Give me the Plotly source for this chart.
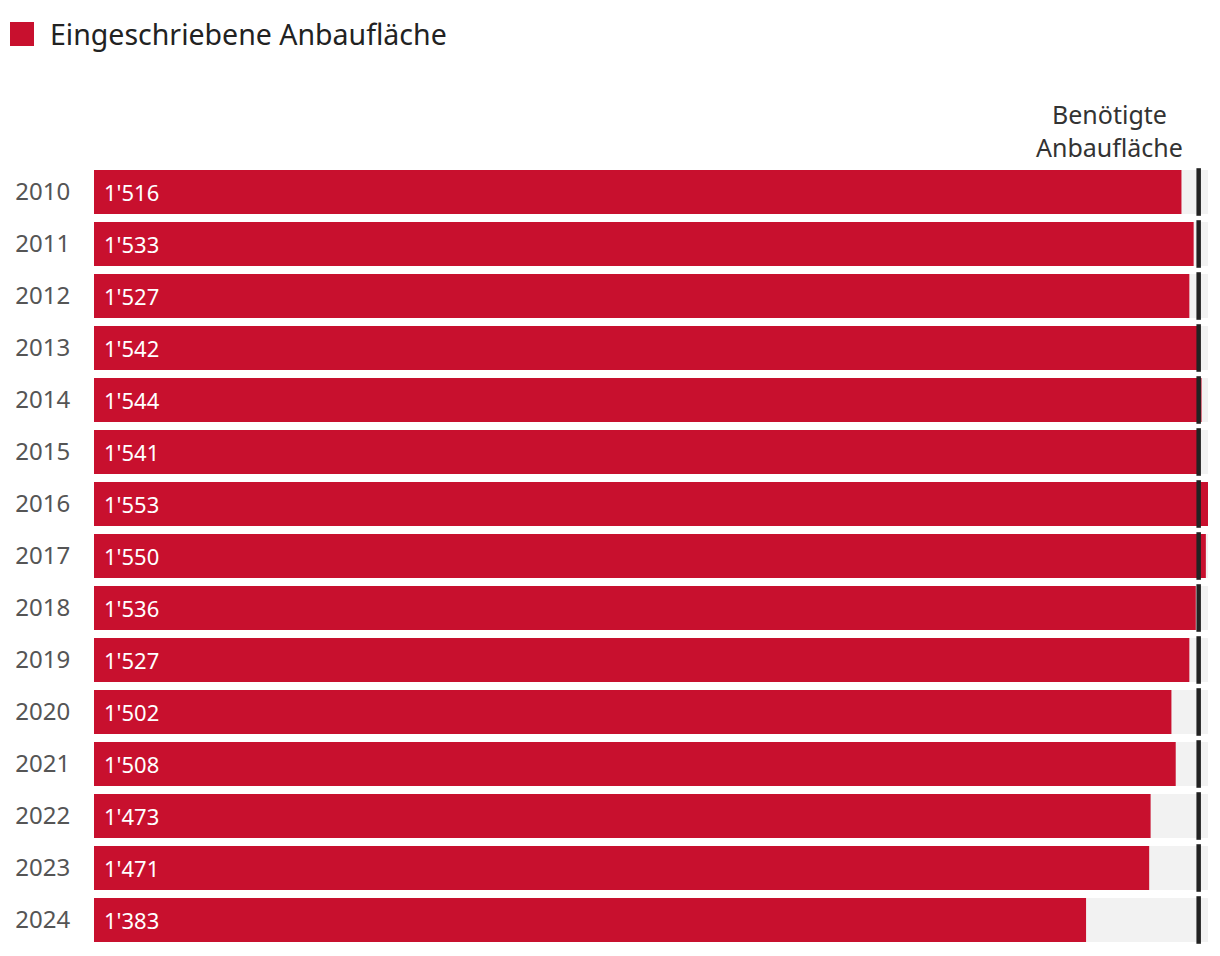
import plotly.graph_objects as go

years = ["2010", "2011", "2012", "2013", "2014", "2015", "2016", "2017",
         "2018", "2019", "2020", "2021", "2022", "2023", "2024"]
area = [1516, 1533, 1527, 1542, 1544, 1541, 1553, 1550,
        1536, 1527, 1502, 1508, 1473, 1471, 1383]
required = [1540] * len(years)

legend_label = "Eingeschriebene Anbaufläche"
required_label = "Benötigte<br>Anbaufläche"

RED = "#c8102e"
GRAY = "#f2f2f2"
FONT = "Noto Sans"

xmax = max(area)
n = len(years)

# figure is placed by the page with an 8px body margin
W, H = 1204, 940
ML, MR, MT, MB = 86, 4, 158, 2
PW = W - ML - MR
PH = H - MT - MB

fig = go.Figure()
fig.add_trace(go.Bar(y=years, x=[xmax] * n, orientation="h",
                     marker=dict(color=GRAY, line=dict(width=0)),
                     hoverinfo="skip", showlegend=False))
fig.add_trace(go.Bar(y=years, x=area, orientation="h", name=legend_label,
                     marker=dict(color=RED, line=dict(width=0)),
                     showlegend=False))
fig.add_trace(go.Scatter(y=years, x=required, mode="markers",
                         marker=dict(symbol="line-ns-open", size=34, color="#222222",
                                     line=dict(width=4.5, color="#222222")),
                         showlegend=False, hoverinfo="skip"))

for i, v in enumerate(area):
    fig.add_annotation(x=0, y=i, xref="x", yref="y", text=f"{v:,}".replace(",", "'"),
                       xanchor="left", xshift=8, showarrow=False,
                       font=dict(family=FONT, size=22, color="white"))

fig.add_annotation(x=required[0], y=1, xref="x", yref="paper", yanchor="bottom",
                   xanchor="right", xshift=-14, yshift=0, text=required_label,
                   align="center", showarrow=False,
                   font=dict(family=FONT, size=25, color="#333333"))

# legend
fig.add_shape(type="rect", xref="paper", yref="paper",
              x0=-84 / PW, x1=-60 / PW, y0=1 + (166 - 46) / PH, y1=1 + (166 - 22) / PH,
              fillcolor=RED, line=dict(width=0))
fig.add_annotation(x=-46 / PW, y=1 + (166 - 34) / PH, xref="paper", yref="paper",
                   xanchor="left", yanchor="middle", text=legend_label, showarrow=False,
                   font=dict(family=FONT, size=28.5, color="#222222"))

fig.update_layout(
    width=W, height=H,
    margin=dict(l=ML, r=MR, t=MT, b=MB),
    barmode="overlay", bargap=8 / 52,
    plot_bgcolor="white", paper_bgcolor="white",
    font=dict(family=FONT),
    xaxis=dict(range=[0, xmax], showgrid=False, zeroline=False,
               showticklabels=False, fixedrange=True, automargin=False),
    yaxis=dict(type="category", range=[n - 0.5, -0.5], showgrid=False, zeroline=False,
               automargin=False, ticks="outside", ticklen=18, tickcolor="rgba(0,0,0,0)",
               tickfont=dict(family=FONT, size=24, color="#555555")),
)

fig.write_html("out.html")
